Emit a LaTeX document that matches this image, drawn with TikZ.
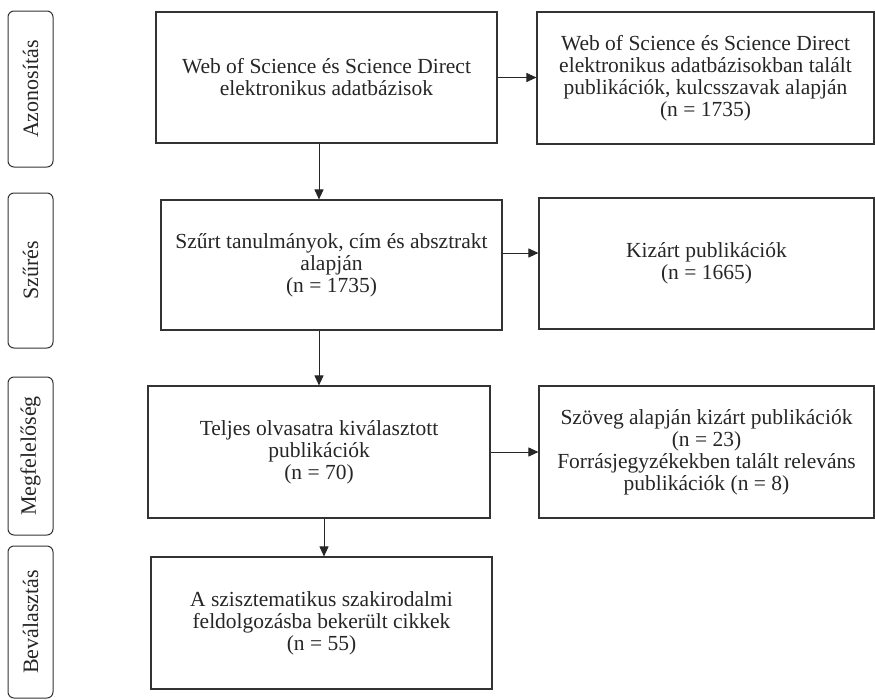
\documentclass[tikz,border=0pt]{standalone}
\usepackage{fontspec}
\setmainfont{Liberation Serif}
\usetikzlibrary{arrows.meta}

\begin{document}
\begin{tikzpicture}[x=1pt,y=-1pt,
    box/.style={shape=rectangle,draw=black!80,line width=1.1pt,inner sep=0pt,
        align=center,text=black!85,font=\fontsize{21.5}{22}\selectfont},
    phase/.style={shape=rectangle,rounded corners=6pt,draw=black!80,line width=1pt,
        inner sep=0pt,minimum height=45pt,rotate=90,text=black!85,
        font=\fontsize{22}{24}\selectfont},
    arr/.style={color=black!85,line width=0.9pt,-{Triangle[length=10pt,width=9pt]}}]
    \useasboundingbox (0,0) rectangle (875,699);
    % phases
    \node[phase,minimum width=156pt] (P1) at (30.5,89) {Azonosítás};
    \node[phase,minimum width=155pt] (P2) at (30.5,270.5) {Szűrés};
    \node[phase,minimum width=158pt] (P3) at (30.5,456) {Megfelelőség};
    \node[phase,minimum width=152pt] (P4) at (30.5,622) {Beválasztás};
    % main column
    \node[box,minimum width=341pt,minimum height=131pt] (DB) at (326.5,77.5)
        {Web of Science és Science Direct\\elektronikus adatbázisok};
    \node[box,minimum width=341pt,minimum height=130pt] (SZ) at (331.5,265)
        {Szűrt tanulmányok, cím és absztrakt\\alapján\\(n = 1735)};
    \node[box,minimum width=342pt,minimum height=132pt] (TO) at (319,452)
        {Teljes olvasatra kiválasztott\\publikációk\\(n = 70)};
    \node[box,minimum width=341pt,minimum height=132pt] (BE) at (321.5,623)
        {A szisztematikus szakirodalmi\\feldolgozásba bekerült cikkek\\(n = 55)};
    % right column
    \node[box,minimum width=337pt,minimum height=132pt] (TA) at (705.5,78)
        {Web of Science és Science Direct\\elektronikus adatbázisokban talált\\publikációk, kulcsszavak alapján\\(n = 1735)};
    \node[box,minimum width=335pt,minimum height=131pt] (KI) at (706.5,263.5)
        {Kizárt publikációk\\(n = 1665)};
    \node[box,minimum width=335pt,minimum height=132pt] (SZO) at (706.5,452)
        {Szöveg alapján kizárt publikációk\\(n = 23)\\Forrásjegyzékekben talált releváns\\publikációk (n = 8)};
    \coordinate (a1) at (319,0);
    \coordinate (a2) at (324,0);
    \path [arr] (DB.east) edge (DB.east -| TA.west);
    \path [arr] ([yshift=12pt]SZ.east) edge ([yshift=12pt]SZ.east -| KI.west);
    \path [arr] (TO.east) edge (TO.east -| SZO.west);
    \path [arr] (DB.south -| a1) edge (SZ.north -| a1);
    \path [arr] (SZ.south -| a1) edge (TO.north -| a1);
    \path [arr] (TO.south -| a2) edge (BE.north -| a2);
\end{tikzpicture}
\end{document}
